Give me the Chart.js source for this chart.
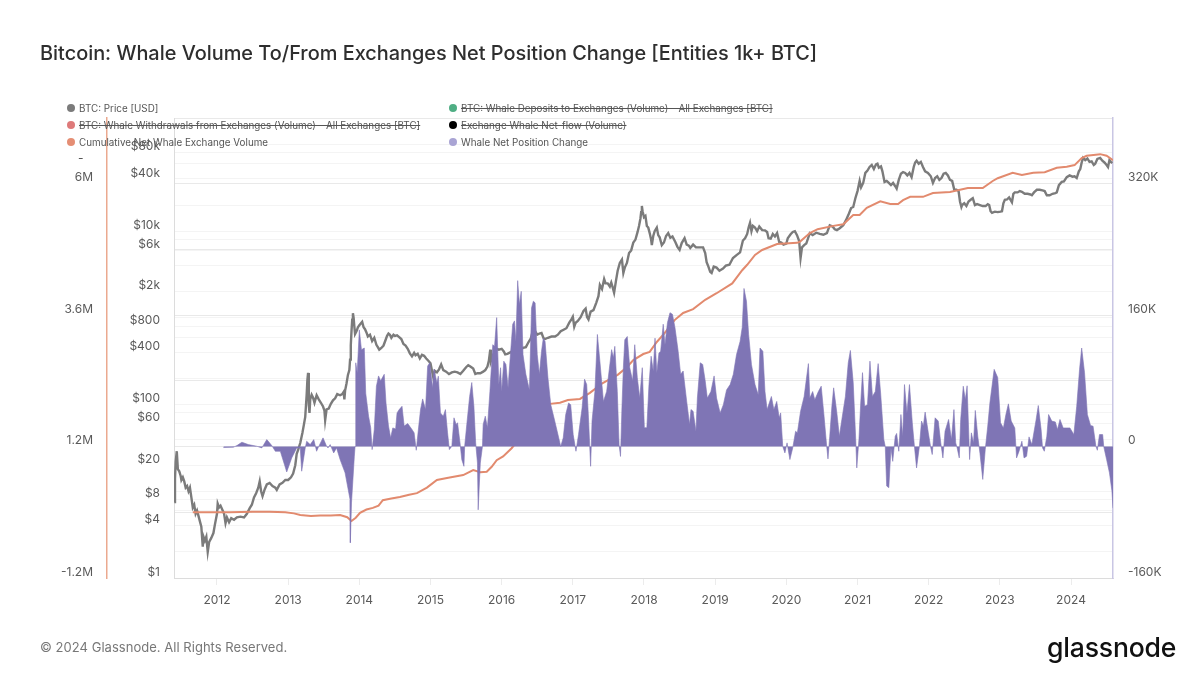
<!DOCTYPE html>
<html>
<head>
<meta charset="utf-8">
<script src="https://cdn.jsdelivr.net/npm/chart.js@4"></script>
<style>
html,body{margin:0;padding:0;background:#fff;}
body{width:1200px;height:675px;position:relative;overflow:hidden;font-family:Inter,sans-serif;}
canvas{position:absolute;left:0;top:0;}
.t{position:absolute;white-space:nowrap;}
#title{left:40px;top:40px;font-size:19.9px;font-weight:500;color:#2e2e2e;line-height:26px;}
#foot{left:40px;top:639px;font-size:13px;color:#777;line-height:16px;letter-spacing:.03px;}
#logo{left:1047px;top:629px;font-size:26.6px;font-weight:500;color:#111;line-height:36px;letter-spacing:-.2px;}
#dash{left:78px;top:151px;font-size:12px;color:#555;line-height:14px;}
.li{position:absolute;font-size:9.85px;line-height:14px;color:#555;white-space:nowrap;}
.li i{position:absolute;left:-12px;top:3px;width:8px;height:8px;border-radius:50%;}
.li.off{text-decoration:line-through;}
</style>
</head>
<body>
<canvas id="c" width="1200" height="675"></canvas>
<div class="t" id="title">Bitcoin: Whale Volume To/From Exchanges Net Position Change [Entities 1k+ BTC]</div>
<div id="legend"></div>
<div class="t" id="dash">-</div>
<div class="t" id="foot">© 2024 Glassnode. All Rights Reserved.</div>
<div class="t" id="logo">glassnode</div>
<script>
const yearTicks=[2012,2013,2014,2015,2016,2017,2018,2019,2020,2021,2022,2023,2024];
const priceGrid=[1,2,4,6,8,10,20,40,60,80,100,200,400,600,800,1000,2000,4000,6000,8000,10000,20000,40000,60000,80000,100000];
const priceLabels=[1,4,8,20,60,100,400,800,2000,6000,10000,40000,80000];
const cumulTicks=[-1.2,1.2,3.6,6];
const netGrid=[-160,-80,0,80,160,240,320,400];
const netLabels=[-160,0,160,320];

const priceYears=[
2011.40,2011.41,2011.42,2011.435,2011.45,2011.47,2011.49,2011.50,2011.52,2011.54,
2011.56,2011.58,2011.60,2011.62,2011.64,2011.66,2011.68,2011.70,2011.72,2011.74,
2011.76,2011.78,2011.80,2011.81,2011.83,2011.85,2011.87,2011.89,2011.92,2011.95,
2011.97,2012.00,2012.01,2012.03,2012.05,2012.08,2012.10,2012.12,2012.14,2012.17,
2012.20,2012.24,2012.28,2012.33,2012.38,2012.42,2012.46,2012.49,2012.52,2012.55,
2012.58,2012.60,2012.62,2012.64,2012.67,2012.70,2012.74,2012.78,2012.82,2012.84,
2012.88,2012.92,2012.96,2013.00,2013.04,2013.07,2013.10,2013.12,2013.14,2013.17,
2013.20,2013.22,2013.24,2013.26,2013.27,2013.28,2013.29,2013.30,2013.31,2013.33,
2013.35,2013.37,2013.40,2013.43,2013.46,2013.49,2013.51,2013.52,2013.54,2013.57,
2013.60,2013.63,2013.66,2013.69,2013.73,2013.76,2013.78,2013.79,2013.80,2013.82,
2013.84,2013.86,2013.87,2013.88,2013.89,2013.90,2013.91,2013.92,2013.93,2013.94,
2013.96,2013.98,2014.00,2014.02,2014.04,2014.06,2014.08,2014.10,2014.12,2014.15,
2014.18,2014.21,2014.24,2014.26,2014.28,2014.31,2014.34,2014.37,2014.39,2014.41,
2014.43,2014.45,2014.48,2014.50,2014.53,2014.56,2014.59,2014.62,2014.65,2014.68,
2014.71,2014.74,2014.77,2014.79,2014.82,2014.85,2014.88,2014.91,2014.94,2014.97,
2015.00,2015.03,2015.04,2015.06,2015.09,2015.12,2015.15,2015.18,2015.22,2015.26,
2015.30,2015.34,2015.38,2015.42,2015.46,2015.50,2015.53,2015.56,2015.60,2015.63,
2015.66,2015.70,2015.74,2015.77,2015.80,2015.82,2015.84,2015.85,2015.87,2015.90,
2015.93,2015.96,2016.00,2016.03,2016.05,2016.08,2016.12,2016.16,2016.20,2016.25,
2016.30,2016.34,2016.38,2016.41,2016.44,2016.46,2016.48,2016.50,2016.53,2016.56,
2016.59,2016.61,2016.65,2016.70,2016.75,2016.79,2016.83,2016.87,2016.91,2016.95,
2016.98,2017.00,2017.02,2017.04,2017.07,2017.11,2017.15,2017.18,2017.20,2017.22,
2017.25,2017.29,2017.33,2017.36,2017.38,2017.41,2017.44,2017.46,2017.49,2017.52,
2017.54,2017.56,2017.58,2017.61,2017.63,2017.66,2017.69,2017.71,2017.73,2017.76,
2017.79,2017.82,2017.85,2017.88,2017.91,2017.93,2017.95,2017.96,2017.97,2017.98,
2018.00,2018.02,2018.04,2018.06,2018.08,2018.10,2018.11,2018.13,2018.15,2018.18,
2018.20,2018.22,2018.25,2018.28,2018.31,2018.34,2018.37,2018.40,2018.44,2018.47,
2018.50,2018.53,2018.57,2018.60,2018.63,2018.65,2018.69,2018.73,2018.78,2018.83,
2018.86,2018.88,2018.90,2018.93,2018.95,2018.98,2019.02,2019.06,2019.11,2019.15,
2019.20,2019.25,2019.30,2019.35,2019.39,2019.42,2019.45,2019.47,2019.49,2019.51,
2019.53,2019.56,2019.59,2019.62,2019.66,2019.70,2019.73,2019.75,2019.78,2019.81,
2019.84,2019.87,2019.90,2019.93,2019.96,2020.00,2020.02,2020.06,2020.09,2020.12,
2020.15,2020.18,2020.20,2020.22,2020.25,2020.28,2020.33,2020.37,2020.42,2020.47,
2020.52,2020.57,2020.61,2020.65,2020.68,2020.71,2020.75,2020.80,2020.84,2020.88,
2020.91,2020.94,2020.97,2021.00,2021.03,2021.05,2021.08,2021.11,2021.14,2021.17,
2021.20,2021.23,2021.26,2021.28,2021.30,2021.33,2021.35,2021.38,2021.41,2021.44,
2021.47,2021.50,2021.53,2021.55,2021.58,2021.61,2021.64,2021.67,2021.70,2021.73,
2021.76,2021.79,2021.81,2021.83,2021.86,2021.89,2021.92,2021.95,2021.99,2022.03,
2022.06,2022.09,2022.12,2022.15,2022.18,2022.21,2022.24,2022.27,2022.30,2022.33,
2022.36,2022.39,2022.42,2022.44,2022.46,2022.47,2022.50,2022.53,2022.56,2022.59,
2022.62,2022.65,2022.68,2022.72,2022.76,2022.80,2022.83,2022.85,2022.87,2022.89,
2022.93,2022.97,2023.01,2023.03,2023.05,2023.07,2023.10,2023.13,2023.17,2023.19,
2023.21,2023.25,2023.28,2023.31,2023.35,2023.39,2023.43,2023.45,2023.48,2023.52,
2023.56,2023.60,2023.63,2023.66,2023.70,2023.74,2023.78,2023.80,2023.83,2023.87,
2023.90,2023.94,2023.98,2024.02,2024.05,2024.08,2024.11,2024.13,2024.15,2024.17,
2024.20,2024.23,2024.26,2024.29,2024.32,2024.34,2024.37,2024.41,2024.44,2024.47,
2024.50,2024.52,2024.54,2024.56,2024.58];
const priceValues=[
7.5,14,22,29,18,17,15,13.5,14.5,13,
11,11.5,10,11,8.5,6.5,7,5.5,6,5.2,
4.5,3.9,2.3,3,2.7,3,2,2.6,2.9,3.3,
4.1,5.5,7.2,6.5,6.8,6,5.5,4.3,5,4.4,
4.9,4.7,5,5.1,5,5.5,6.4,7,8.5,9.5,
11,13,10,8.8,10.5,12,12.5,11.5,11,10.4,
12,12.5,13.5,13.5,14.5,16,20,27,30,36,
47,58,72,130,190,232,100,80,115,130,
120,105,128,115,105,95,85,66,88,90,
102,112,118,132,128,132,140,115,145,175,
220,250,330,480,700,950,1130,1000,800,650,
700,780,820,860,900,780,740,680,610,640,
540,590,490,460,430,450,480,560,620,660,
640,590,640,620,630,600,570,500,480,440,
390,360,395,370,385,340,375,365,340,320,
300,225,205,245,235,255,290,250,240,225,
235,240,235,225,245,270,285,275,260,225,
230,230,240,250,275,320,430,320,360,400,
440,430,440,410,380,385,400,420,415,425,
450,460,530,580,720,620,680,640,660,670,
580,570,590,610,610,640,700,730,760,880,
960,1030,790,880,920,1020,1200,1280,1020,960,
1180,1230,1500,1780,2400,2150,2800,2500,2500,2300,
2550,2250,1950,2800,3500,4300,4700,3300,3800,4300,
5600,6000,7400,8000,9800,11500,14000,16500,19500,17000,
14500,15000,11500,11000,9500,8000,6900,8800,10000,11000,
9000,8500,6900,7400,8800,9500,8400,8700,7500,6600,
6100,7300,8300,7000,6800,6400,7000,6500,6500,6500,
5600,4400,4000,3400,3300,3900,3800,3500,3700,4000,
4100,4900,5300,5700,7800,8300,9300,11000,12500,10000,
11500,11000,10000,11300,10300,10200,9800,8300,8200,9300,
8700,9500,7500,7400,7000,7200,8300,9200,9800,10000,
9000,7700,4900,6500,6900,7200,9500,9000,9600,9300,
9100,9500,11700,11300,10500,10300,10800,11700,13500,16000,
18500,19000,24000,29000,38000,32000,36000,47000,50000,55000,
58000,52000,59000,60000,54000,56000,49000,37000,38000,36000,
34000,36000,33000,31000,39000,46000,48000,47000,44000,47000,
42000,55000,62000,65000,60000,63000,55000,49000,47000,43000,
36000,41000,43000,39000,41000,46000,47000,44000,39000,38000,
30000,30000,29000,22000,19000,20000,21000,19500,22000,23000,
24000,20000,20500,20000,19500,19500,20500,20000,17000,16300,
16800,16600,16800,17000,21000,23000,23200,24500,21500,27000,
28000,28000,29000,28500,27000,27000,26500,26000,28000,30000,
30000,29500,29000,26000,26000,27000,27500,28000,34000,37000,
37500,42000,44000,42500,43000,41000,49000,52000,62000,70000,
66000,69000,63000,64000,58000,60000,68000,70000,65000,62000,
58000,55000,66000,63000,61000];

const cumulYears=[
2011.66,2012.18,2012.50,2012.74,2012.96,2013.08,2013.17,2013.32,2013.45,2013.60,
2013.73,2013.83,2013.89,2013.95,2014.01,2014.10,2014.19,2014.27,2014.33,2014.45,
2014.57,2014.70,2014.81,2014.95,2015.09,2015.25,2015.46,2015.60,2015.70,2015.79,
2015.86,2015.93,2016.02,2016.14,2016.40,2016.68,2016.82,2016.93,2017.10,2017.24,
2017.42,2017.63,2017.76,2017.85,2017.99,2018.08,2018.18,2018.29,2018.43,2018.55,
2018.69,2018.86,2019.02,2019.24,2019.38,2019.45,2019.56,2019.66,2019.87,2020.15,
2020.19,2020.33,2020.44,2020.66,2020.80,2020.94,2021.03,2021.13,2021.32,2021.46,
2021.57,2021.64,2021.74,2021.92,2022.06,2022.30,2022.55,2022.76,2022.90,2022.97,
2023.18,2023.31,2023.47,2023.63,2023.80,2023.94,2024.05,2024.15,2024.22,2024.41,
2024.50,2024.59];
const cumulValues=[
0,0,0.01,0.01,0,-0.02,-0.05,-0.07,-0.06,-0.06,
-0.05,-0.09,-0.16,-0.10,-0.01,0.05,0.08,0.12,0.22,0.25,
0.28,0.32,0.35,0.45,0.59,0.63,0.68,0.77,0.73,0.74,
0.83,0.95,1.02,1.17,1.59,1.98,2.0,2.05,2.07,2.18,
2.36,2.51,2.65,2.78,2.89,2.93,3.11,3.27,3.51,3.64,
3.71,3.88,4.0,4.18,4.42,4.52,4.70,4.79,4.90,4.92,
4.94,5.10,5.17,5.23,5.26,5.43,5.43,5.56,5.68,5.63,
5.63,5.70,5.76,5.76,5.83,5.85,5.92,5.92,6.05,6.10,
6.20,6.16,6.20,6.21,6.29,6.31,6.34,6.47,6.51,6.54,
6.51,6.43];

const netYears=[
2012.09,2012.23,2012.28,2012.35,2012.44,2012.56,2012.63,2012.70,2012.77,2012.82,
2012.89,2012.98,2013.05,2013.12,2013.17,2013.19,2013.24,2013.26,2013.31,2013.36,
2013.40,2013.42,2013.49,2013.54,2013.56,2013.59,2013.64,2013.68,2013.73,2013.80,
2013.87,2013.874,2013.89,2013.93,2013.94,2013.95,2013.97,2014.00,2014.03,2014.07,
2014.09,2014.13,2014.16,2014.18,2014.21,2014.24,2014.27,2014.30,2014.35,2014.375,
2014.41,2014.44,2014.47,2014.51,2014.53,2014.56,2014.60,2014.63,2014.68,2014.735,
2014.77,2014.80,2014.825,2014.86,2014.89,2014.93,2014.96,2014.99,2015.03,2015.05,
2015.09,2015.11,2015.14,2015.18,2015.21,2015.24,2015.265,2015.30,2015.33,2015.36,
2015.38,2015.415,2015.44,2015.47,2015.48,2015.51,2015.55,2015.58,2015.61,2015.635,
2015.66,2015.67,2015.70,2015.73,2015.74,2015.77,2015.80,2015.835,2015.875,2015.90,
2015.93,2015.96,2015.985,2016.00,2016.03,2016.06,2016.09,2016.12,2016.155,2016.18,
2016.20,2016.225,2016.25,2016.275,2016.30,2016.34,2016.39,2016.42,2016.445,2016.47,
2016.50,2016.53,2016.56,2016.585,2016.61,2016.65,2016.69,2016.735,2016.78,2016.83,
2016.865,2016.90,2016.94,2016.97,2017.005,2017.044,2017.08,2017.13,2017.165,2017.195,
2017.22,2017.25,2017.27,2017.31,2017.345,2017.38,2017.43,2017.475,2017.545,2017.57,
2017.59,2017.625,2017.65,2017.67,2017.69,2017.71,2017.73,2017.765,2017.80,2017.84,
2017.87,2017.906,2017.94,2017.976,2018.005,2018.04,2018.07,2018.10,2018.13,2018.155,
2018.18,2018.21,2018.234,2018.27,2018.295,2018.33,2018.365,2018.40,2018.435,2018.48,
2018.515,2018.55,2018.60,2018.64,2018.66,2018.69,2018.73,2018.75,2018.79,2018.825,
2018.86,2018.89,2018.94,2018.985,2019.02,2019.07,2019.115,2019.16,2019.21,2019.255,
2019.30,2019.35,2019.38,2019.405,2019.44,2019.47,2019.51,2019.56,2019.605,2019.63,
2019.67,2019.70,2019.73,2019.79,2019.825,2019.865,2019.90,2019.92,2019.95,2019.98,
2020.01,2020.05,2020.09,2020.13,2020.155,2020.20,2020.25,2020.31,2020.33,2020.37,
2020.40,2020.45,2020.49,2020.53,2020.567,2020.585,2020.61,2020.64,2020.665,2020.71,
2020.745,2020.78,2020.83,2020.87,2020.90,2020.94,2020.975,2020.99,2021.02,2021.045,
2021.07,2021.10,2021.14,2021.175,2021.21,2021.25,2021.29,2021.325,2021.37,2021.39,
2021.41,2021.44,2021.47,2021.495,2021.53,2021.55,2021.58,2021.61,2021.635,2021.66,
2021.695,2021.73,2021.77,2021.80,2021.83,2021.87,2021.90,2021.925,2021.95,2021.995,
2022.03,2022.05,2022.09,2022.135,2022.17,2022.20,2022.23,2022.28,2022.32,2022.355,
2022.38,2022.40,2022.43,2022.45,2022.486,2022.515,2022.54,2022.566,2022.575,2022.60,
2022.63,2022.655,2022.69,2022.72,2022.76,2022.795,2022.83,2022.86,2022.92,2022.97,
2023.01,2023.05,2023.085,2023.12,2023.16,2023.21,2023.235,2023.27,2023.31,2023.34,
2023.376,2023.41,2023.45,2023.51,2023.54,2023.58,2023.60,2023.625,2023.66,2023.685,
2023.73,2023.78,2023.81,2023.845,2023.89,2023.94,2023.985,2024.04,2024.08,2024.12,
2024.15,2024.19,2024.23,2024.275,2024.31,2024.35,2024.37,2024.40,2024.445,2024.46,
2024.50,2024.54,2024.575,2024.59];
const netValues=[
-1.2,-0.8,1.2,5.3,2.4,0.4,-1.6,8.5,1.2,-5.7,
-5.7,-30.9,-13.8,-1.6,-1.6,-30,-1.6,6.5,2.4,8.5,
-5.7,-1.6,10.6,0.4,-1.6,2.4,-7.7,-1.6,-15.8,-32,
-64.6,-117,-68.6,-11.8,0,102,90,142,118,120,
65,37,23,-3.7,20.7,73.5,86,80,88,53,
25,10.6,22.7,21.5,41,45,49,25,28,21.5,
16.7,-4.5,16.7,45,58,45,98,102,71.5,94,
77.6,85.7,41,37,45,16.7,-3.7,0.4,35,27,
29,4.5,-16,-24,0,27,61,78,49,4.5,
-20,-77,-20,0,27,37,23,67,124,122,
157,75.5,96,67,104,100,71.5,108,149,153,
128,202,173,189,112,88,69,169,177,175,
112,88,116,132,128,84,51,35,18.7,0,
10.6,39,53,51,14.6,-5.7,14.6,47,82,75.5,
35,-24,31,67,136.5,104,55,67,118,108,
122,67,2.4,-12,47,96,130,134,96,80,
124,84,59,96,23,23,75.5,110,92,132,
90,114,116,149,124,151,163,161,145,116,
88,92,55,27,45,43,18.7,59,102,100,
80,59,67,86,59,41,51,69,75.5,88,
112,128,145,192.5,177,136.5,100,75.5,63,120,
116,67,45,61,45,55,35,41,0,-7.7,
4.5,-15.8,-1.6,18.7,16.7,43,61,101,59,67,
57,67,73.5,37,0.4,-15,12.6,49,71.5,41,
12.6,33,61,102,117,77.6,8.5,-26,8.5,53,
90,49,51,104,61,67,101,65,8.5,0,
-48,-50,-1.6,-18,12.6,16,-5.7,39,12.6,75.5,
41,75.5,29,0,-26,0.4,31,25,42,16.7,
-1.6,-9.7,35,31,4.5,-13.8,18.7,33,8.5,45,
4.5,-1.6,-13.8,33,73.5,57,74,8.5,-15.8,16.7,
4.5,44,12.6,-7.7,-40,-3.7,25,53,94,84,
29,22.7,39,52,31,22.7,-13.8,-5.7,6.5,-13.8,
-11.8,11.8,2.4,33,50,20.7,-1.6,-5.7,12.6,39,
31,30,20.7,33,22.7,22.7,22.7,14.6,49,94,
120,90,39,25.6,24.8,0.4,-4.5,14.6,14.6,0,
-15.8,-32,-54,-75];

const zip=(xs,ys)=>xs.map((x,i)=>({x,y:ys[i]}));
const fmtPrice=v=>v>=1000?'$'+(v/1000)+'k':'$'+v;
const fmtNet=v=>v===0?'0':v+'K';
const setTicks=list=>scale=>{scale.ticks=list.map(value=>({value}));};
const fixW=w=>scale=>{scale.width=w;};
const tickFont={family:'Inter',size:12};
const tickColor='#5a5a5a';

const chart=new Chart(document.getElementById('c'),{
  type:'line',
  data:{datasets:[
    {label:'BTC: Price [USD]',data:zip(priceYears,priceValues),yAxisID:'price',borderColor:'#7b7b7b',backgroundColor:'#7b7b7b',borderWidth:2.4,order:3,swatch:'#7b7b7b'},
    {label:'BTC: Whale Deposits to Exchanges (Volume) - All Exchanges [BTC]',data:[],yAxisID:'cumul',hidden:true,swatch:'#4fae84'},
    {label:'BTC: Whale Withdrawals from Exchanges (Volume) - All Exchanges [BTC]',data:[],yAxisID:'cumul',hidden:true,swatch:'#de7a7a'},
    {label:'Exchange Whale Net-flow (Volume)',data:[],yAxisID:'cumul',hidden:true,swatch:'#000000'},
    {label:'Cumulative Net Whale Exchange Volume',data:zip(cumulYears,cumulValues),yAxisID:'cumul',borderColor:'#e28a6e',backgroundColor:'#e28a6e',borderWidth:2,order:2,swatch:'#e58e74'},
    {label:'Whale Net Position Change',data:zip(netYears,netValues),yAxisID:'net',borderColor:'#7f75b5',backgroundColor:'#7f75b5',borderWidth:0.6,fill:{value:0},order:1,swatch:'#a9a4d4'}
  ]},
  options:{
    responsive:false,animation:false,devicePixelRatio:1,
    layout:{padding:{left:40,right:27,top:118,bottom:67}},
    elements:{point:{radius:0},line:{tension:0}},
    plugins:{legend:{display:false},title:{display:false},tooltip:{enabled:false}},
    scales:{
      x:{type:'linear',min:2011.396,max:2024.59,afterBuildTicks:setTicks(yearTicks),afterFit:s=>{s.height=30;},
        grid:{drawOnChartArea:false,drawTicks:true,tickLength:7,color:'#ececec'},
        border:{display:true,color:'#dcdcdc'},
        ticks:{autoSkip:false,maxRotation:0,padding:8,color:tickColor,font:tickFont,callback:v=>String(v)}},
      price:{type:'logarithmic',position:'left',weight:0,min:1,max:202000,afterBuildTicks:setTicks(priceGrid),afterFit:fixW(67),
        grid:{color:'#f4f4f4',drawTicks:false},border:{display:true,color:'#dcdcdc'},
        ticks:{autoSkip:false,align:'end',padding:14,color:tickColor,font:tickFont,callback:v=>priceLabels.includes(v)?fmtPrice(v):''}},
      cumul:{type:'linear',position:'left',weight:1,min:-1.2,max:7.2,afterBuildTicks:setTicks(cumulTicks),afterFit:fixW(67),
        grid:{display:false,drawTicks:false},border:{display:true,color:'#eba98f',width:1.5},
        ticks:{autoSkip:false,align:'end',padding:14,color:tickColor,font:tickFont,callback:v=>v+'M'}},
      net:{type:'linear',position:'right',min:-160,max:400,afterBuildTicks:setTicks(netGrid),afterFit:fixW(60),
        grid:{color:'#e9e9e9',drawTicks:false},border:{display:true,color:'#c9c6e4',width:1.5},
        ticks:{autoSkip:false,align:'end',padding:15,color:tickColor,font:tickFont,callback:v=>netLabels.includes(v)?fmtNet(v):''}}
    }
  }
});

const legendBox=document.getElementById('legend');
chart.data.datasets.forEach((d,i)=>{
  const el=document.createElement('div');
  el.className='li'+(d.hidden?' off':'');
  el.style.left=(i%2?461:79)+'px';
  el.style.top=(101+17*Math.floor(i/2))+'px';
  el.textContent=d.label;
  const dot=document.createElement('i');
  dot.style.background=d.swatch;
  el.appendChild(dot);
  legendBox.appendChild(el);
});
</script>
</body>
</html>
